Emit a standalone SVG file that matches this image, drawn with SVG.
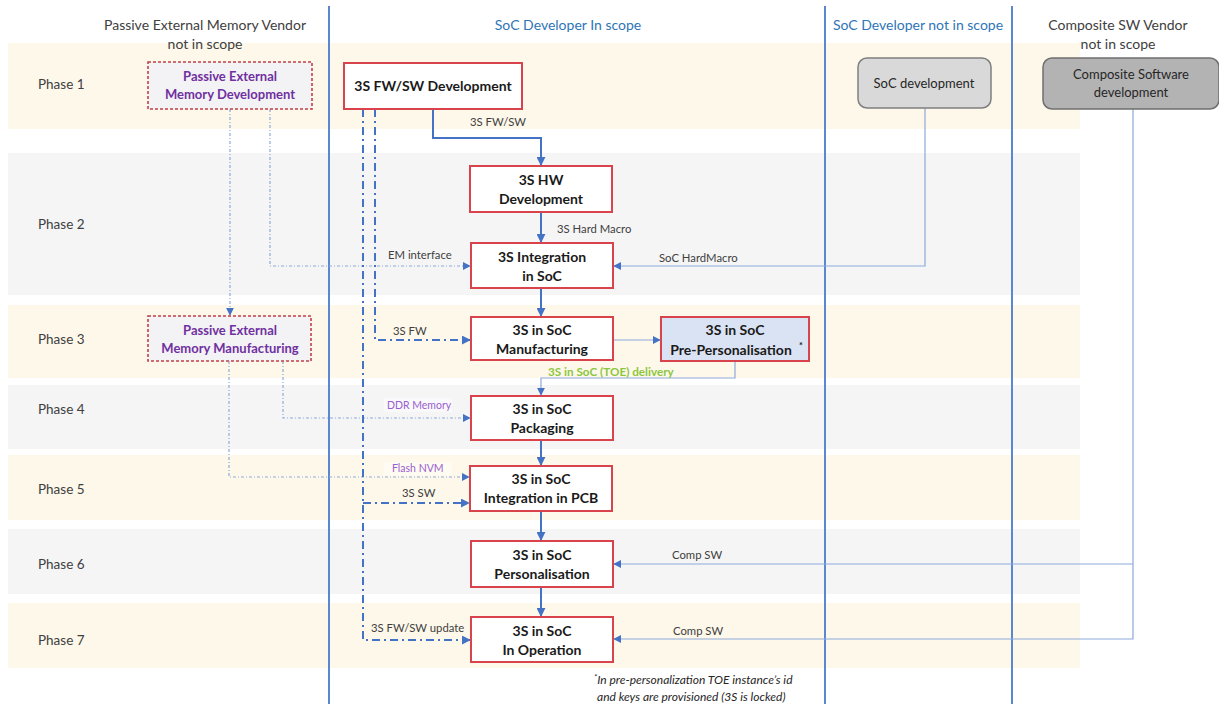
<svg xmlns="http://www.w3.org/2000/svg" width="1219" height="704" viewBox="0 0 1219 704">
<defs>
<style>
text{font-family:Lato,"Open Sans","Liberation Sans",sans-serif;}
.hdr{font-size:14px;fill:#404040;text-anchor:middle;}
.hdrb{font-size:14px;fill:#2e75b6;text-anchor:middle;}
.ph{font-size:13.5px;fill:#404040;}
.nt{font-size:14px;font-weight:bold;fill:#1a1a1a;text-anchor:middle;}
.pt{font-size:13px;font-weight:bold;fill:#7030a0;text-anchor:middle;}
.gt{font-size:13px;fill:#262626;text-anchor:middle;}
.lb{font-size:11.3px;fill:#404040;}
.lbp{font-size:10.5px;fill:#9a5fcf;}
.lbg{font-size:11.7px;font-weight:bold;fill:#8cc63f;}
.fn{font-size:12px;font-style:italic;fill:#262626;}
.box{fill:#ffffff;stroke:#d9434b;stroke-width:2;}
.pbox{fill:#f3f2f5;stroke:#c0404a;stroke-width:1.6;stroke-dasharray:3 2;}
.main{fill:none;stroke:#4472c4;stroke-width:2;}
.thin{fill:none;stroke:#8eaadb;stroke-width:1.2;}
.dd{fill:none;stroke:#4472c4;stroke-width:2;stroke-dasharray:8 4 2 4;}
.dot{fill:none;stroke:#8eaadb;stroke-width:1.2;stroke-dasharray:3 2 1 2;}
.lane{stroke:#5b87d0;stroke-width:2;}
</style>
<marker id="ah" viewBox="0 0 10 10" refX="9" refY="5" markerWidth="9" markerHeight="9" markerUnits="userSpaceOnUse" orient="auto"><path d="M0,0 L10,5 L0,10 z" fill="#4472c4"/></marker>
<marker id="ahs" viewBox="0 0 10 10" refX="9" refY="5" markerWidth="8" markerHeight="8" markerUnits="userSpaceOnUse" orient="auto"><path d="M0,0 L10,5 L0,10 z" fill="#4472c4"/></marker>
</defs>
<rect width="1219" height="704" fill="#ffffff"/>
<g id="bands">
<rect x="8" y="43" width="1072" height="86" fill="#fdf8ea"/>
<rect x="8" y="153" width="1072" height="142" fill="#f5f5f5"/>
<rect x="8" y="305" width="1072" height="73" fill="#fdf8ea"/>
<rect x="8" y="385" width="1072" height="64" fill="#f5f5f5"/>
<rect x="8" y="455" width="1072" height="65" fill="#fdf8ea"/>
<rect x="8" y="529" width="1072" height="65" fill="#f5f5f5"/>
<rect x="8" y="603" width="1072" height="65" fill="#fdf8ea"/>
</g>
<g id="phases">
<text class="ph" x="38" y="89">Phase 1</text>
<text class="ph" x="38" y="229">Phase 2</text>
<text class="ph" x="38" y="344">Phase 3</text>
<text class="ph" x="38" y="414">Phase 4</text>
<text class="ph" x="38" y="494">Phase 5</text>
<text class="ph" x="38" y="569">Phase 6</text>
<text class="ph" x="38" y="645">Phase 7</text>
</g>
<g id="lanes">
<line class="lane" x1="329" y1="6" x2="329" y2="704"/>
<line class="lane" x1="825" y1="6" x2="825" y2="704"/>
<line class="lane" x1="1012" y1="6" x2="1012" y2="704"/>
<text class="hdr" x="205" y="30">Passive External Memory Vendor</text>
<text class="hdr" x="205" y="49">not in scope</text>
<text class="hdrb" x="568" y="30">SoC Developer In scope</text>
<text class="hdrb" x="918" y="30">SoC Developer not in scope</text>
<text class="hdr" x="1118" y="30">Composite SW Vendor</text>
<text class="hdr" x="1118" y="49">not in scope</text>
</g>
<g id="connectors">
<path class="main" d="M433,109 V138 H541 V165" marker-end="url(#ah)"/>
<text class="lb" x="470" y="126">3S FW/SW</text>
<path class="main" d="M541,212 V242" marker-end="url(#ah)"/>
<text class="lb" x="557" y="233">3S Hard Macro</text>
<path class="thin" d="M925,108 V266 H614" marker-end="url(#ahs)"/>
<text class="lb" x="659" y="262">SoC HardMacro</text>
<path class="dot" d="M270,109 V266 H470" marker-end="url(#ahs)"/>
<text class="lb" x="388" y="259">EM interface</text>
<path class="dot" d="M230,109 V315" marker-end="url(#ahs)"/>
<path class="main" d="M541,288 V316" marker-end="url(#ah)"/>
<path class="dd" d="M375,109 V340 H470" marker-end="url(#ah)"/>
<text class="lb" x="393" y="335">3S FW</text>
<path class="thin" d="M613,340 H660" marker-end="url(#ahs)"/>
<path class="thin" d="M735,361 V378 H541 V395" marker-end="url(#ahs)"/>
<text class="lbg" x="548" y="376">3S in SoC (TOE) delivery</text>
<rect x="384" y="398" width="68" height="14" fill="#f9f9fb"/>
<path class="dot" d="M283,361 V418 H470" marker-end="url(#ahs)"/>
<text class="lbp" x="387" y="409">DDR Memory</text>
<path class="main" d="M541,440 V465" marker-end="url(#ah)"/>
<rect x="384" y="462" width="68" height="13" fill="#fefbf2"/>
<path class="dot" d="M229,361 V477 H469" marker-end="url(#ahs)"/>
<text class="lbp" x="392" y="472">Flash NVM</text>
<path class="dd" d="M363,109 V640 H470" marker-end="url(#ah)"/>
<path class="dd" d="M363,503 H469" marker-end="url(#ah)"/>
<text class="lb" x="402" y="497">3S SW</text>
<text class="lb" x="371" y="632">3S FW/SW update</text>
<path class="main" d="M541,511 V540" marker-end="url(#ah)"/>
<path class="main" d="M541,587 V616" marker-end="url(#ah)"/>
<path class="thin" d="M1133,109 V639 H614" marker-end="url(#ahs)"/>
<path class="thin" d="M1133,564 H614" marker-end="url(#ahs)"/>
<text class="lb" x="672" y="559">Comp SW</text>
<text class="lb" x="673" y="635">Comp SW</text>
</g>
<g id="pem-dev">
<rect class="pbox" x="148" y="62" width="164" height="47"/>
<text class="pt" x="230" y="81">Passive External</text>
<text class="pt" x="230" y="99">Memory Development</text>
</g>
<g id="fwsw-dev">
<rect class="box" x="344" y="63" width="178" height="46"/>
<text class="nt" x="433" y="91">3S FW/SW Development</text>
</g>
<g id="soc-dev">
<rect x="858" y="58" width="133" height="50" rx="9" fill="#d9d9d9" stroke="#7f7f7f" stroke-width="1.5"/>
<text class="gt" x="924" y="88">SoC development</text>
</g>
<g id="comp-dev">
<rect x="1043" y="58" width="176" height="51" rx="9" fill="#b3b3b3" stroke="#6f6f6f" stroke-width="1.5"/>
<text class="gt" x="1131" y="79">Composite Software</text>
<text class="gt" x="1131" y="97">development</text>
</g>
<g id="hw-dev">
<rect class="box" x="470" y="166" width="142" height="46"/>
<text class="nt" x="541" y="185">3S HW</text>
<text class="nt" x="541" y="204">Development</text>
</g>
<g id="integration">
<rect class="box" x="471" y="243" width="142" height="45"/>
<text class="nt" x="542" y="262">3S Integration</text>
<text class="nt" x="542" y="281">in SoC</text>
</g>
<g id="pem-mfg">
<rect class="pbox" x="148" y="316" width="163" height="45"/>
<text class="pt" x="230" y="335">Passive External</text>
<text class="pt" x="230" y="353">Memory Manufacturing</text>
</g>
<g id="manufacturing">
<rect class="box" x="471" y="317" width="142" height="43"/>
<text class="nt" x="542" y="335">3S in SoC</text>
<text class="nt" x="542" y="354">Manufacturing</text>
</g>
<g id="pre-pers">
<rect x="661" y="317" width="148" height="44" fill="#dae3f3" stroke="#d9434b" stroke-width="2"/>
<text class="nt" x="735" y="335">3S in SoC</text>
<text class="nt" x="731" y="355">Pre-Personalisation</text>
<text x="799" y="349" style="font-size:9px;font-weight:bold;fill:#1a1a1a">*</text>
</g>
<g id="packaging">
<rect class="box" x="471" y="396" width="142" height="44"/>
<text class="nt" x="542" y="414">3S in SoC</text>
<text class="nt" x="542" y="433">Packaging</text>
</g>
<g id="pcb">
<rect class="box" x="470" y="466" width="142" height="45"/>
<text class="nt" x="541" y="484">3S in SoC</text>
<text class="nt" x="541" y="503">Integration in PCB</text>
</g>
<g id="personalisation">
<rect class="box" x="471" y="541" width="142" height="46"/>
<text class="nt" x="542" y="560">3S in SoC</text>
<text class="nt" x="542" y="579">Personalisation</text>
</g>
<g id="operation">
<rect class="box" x="471" y="617" width="142" height="45"/>
<text class="nt" x="542" y="636">3S in SoC</text>
<text class="nt" x="542" y="655">In Operation</text>
</g>
<g id="footnote">
<text class="fn" x="594" y="684"><tspan style="font-size:8px" dy="-4">*</tspan><tspan dy="4">In pre-personalization TOE instance’s id</tspan></text>
<text class="fn" x="597" y="701">and keys are provisioned (3S is locked)</text>
</g>
</svg>
